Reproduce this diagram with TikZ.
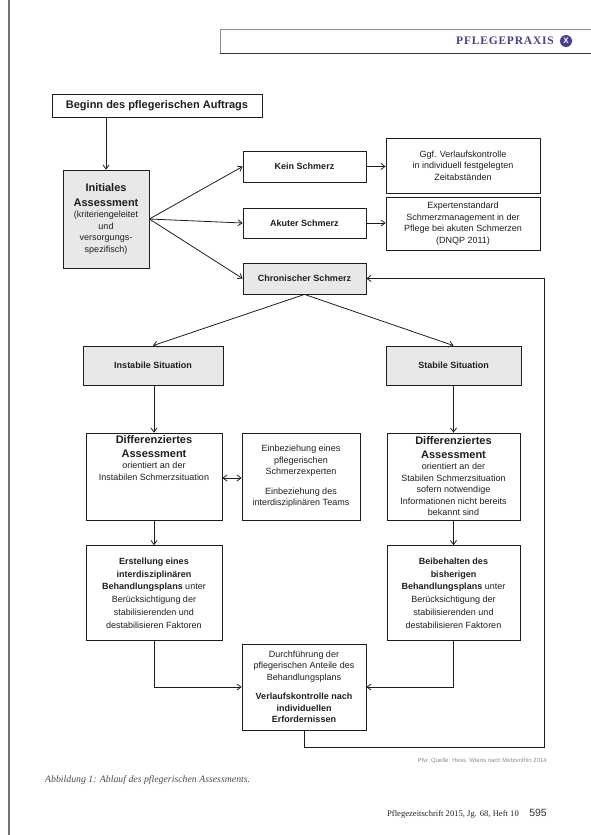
\documentclass[tikz,border=0pt]{standalone}
\usepackage{fontspec}
\setmainfont{Liberation Sans}
\newfontfamily\seriffont{Liberation Serif}
\usetikzlibrary{arrows.meta}
\definecolor{inkc}{HTML}{1E1E1E}
\definecolor{greyfill}{HTML}{E8E8E8}
\definecolor{bannerc}{HTML}{4B3F8C}
\tikzset{
  box/.style={draw=inkc, line width=0.8pt, align=center, inner sep=2pt, text=inkc,
              font=\fontsize{9}{11.5}\selectfont},
  gbox/.style={box, fill=greyfill},
  txt/.style={align=center, inner sep=0pt, text=inkc, font=\fontsize{9}{11.5}\selectfont},
  arr/.style={draw=inkc, line width=0.8pt, -{Straight Barb[length=4pt,width=6pt]}},
  darr/.style={draw=inkc, line width=0.8pt, {Straight Barb[length=4pt,width=6pt]}-{Straight Barb[length=4pt,width=6pt]}},
}
\newcommand{\bigb}{\fontsize{11}{14}\selectfont\bfseries}
\begin{document}
\begin{tikzpicture}[x=1pt,y=-1pt]
\useasboundingbox[fill=white] (0,0) rectangle (591,835);
% page edge line
\draw[line width=2.5pt, black!55] (9,0) -- (9,835);
% banner
\draw[line width=0.5pt, black!45] (591,29) -- (220,29) -- (220,53);
\draw[line width=1pt, black!80] (220,53) -- (591,53);
\node[anchor=east, inner sep=0pt, text=bannerc, font=\seriffont\fontsize{11.5}{12}\selectfont\bfseries] (bannertxt) at (554,41) {P\kern0.8pt F\kern0.8pt L\kern0.8pt E\kern0.8pt G\kern0.8pt E\kern0.8pt P\kern0.8pt R\kern0.8pt A\kern0.8pt X\kern0.8pt I\kern0.8pt S};
\node[circle, fill=bannerc, minimum size=12pt, inner sep=0pt, text=white, font=\fontsize{8}{8}\selectfont\bfseries] (bannericon) at (566,41) {X};

% boxes
\node[box, minimum width=210pt, minimum height=23pt, font=\fontsize{11}{13}\selectfont\bfseries] (beginn) at (157,105.5) {Beginn des pflegerischen Auftrags};
\node[gbox, minimum width=86pt, minimum height=98pt] (init) at (106,219)
  {{\bigb Initiales}\\[3pt]{\bigb Assessment}\\(kriteriengeleitet\\und\\versorgungs-\\spezifisch)};
\node[box, minimum width=123pt, minimum height=31pt, font=\fontsize{9}{11}\selectfont\bfseries] (kein) at (304.5,166.5) {Kein Schmerz};
\node[box, minimum width=123pt, minimum height=30pt, font=\fontsize{9}{11}\selectfont\bfseries] (akut) at (304.5,223) {Akuter Schmerz};
\node[gbox, minimum width=123pt, minimum height=31pt, font=\fontsize{9}{11}\selectfont\bfseries] (chron) at (304.5,278.5) {Chronischer Schmerz};
\node[box, minimum width=154pt, minimum height=55pt] (ggf) at (463,165.5)
  {Ggf. Verlaufskontrolle\\in individuell festgelegten\\Zeitabständen};
\node[box, minimum width=154pt, minimum height=53pt] (exp) at (463,223.5)
  {Expertenstandard\\Schmerzmanagement in der\\Pflege bei akuten Schmerzen\\(DNQP 2011)};
\node[gbox, minimum width=140pt, minimum height=39pt, font=\fontsize{9}{11}\selectfont\bfseries] (inst) at (153,365.5) {Instabile Situation};
\node[gbox, minimum width=135pt, minimum height=39pt, font=\fontsize{9}{11}\selectfont\bfseries] (stab) at (453.5,365.5) {Stabile Situation};

\node[box, minimum width=136pt, minimum height=87pt] (diffl) at (154,476.5) {};
\node[txt, anchor=north] (diffltxt) at ([yshift=-3pt]diffl.north)
  {{\bigb Differenziertes}\\[2pt]{\bigb Assessment}\\orientiert an der\\Instabilen Schmerzsituation};
\node[box, minimum width=118pt, minimum height=87pt] (mid) at (301,476.5)
  {Einbeziehung eines\\pflegerischen\\Schmerzexperten\\[8pt]Einbeziehung des\\interdisziplinären Teams};
\node[box, minimum width=133pt, minimum height=87pt] (diffr) at (453.5,476.5)
  {{\bigb Differenziertes}\\[2pt]{\bigb Assessment}\\orientiert an der\\Stabilen Schmerzsituation\\sofern notwendige\\Informationen nicht bereits\\bekannt sind};

\node[box, minimum width=136pt, minimum height=95pt, font=\fontsize{9}{12.8}\selectfont] (erst) at (154,593)
  {\textbf{Erstellung eines}\\\textbf{interdisziplinären}\\\textbf{Behandlungsplans} unter\\Berücksichtigung der\\stabilisierenden und\\destabilisieren Faktoren};
\node[box, minimum width=133pt, minimum height=95pt, font=\fontsize{9}{12.8}\selectfont] (beib) at (453.5,593)
  {\textbf{Beibehalten des}\\\textbf{bisherigen}\\\textbf{Behandlungsplans} unter\\Berücksichtigung der\\stabilisierenden und\\destabilisieren Faktoren};
\node[box, minimum width=124pt, minimum height=86pt] (durch) at (304,687)
  {Durchführung der\\pflegerischen Anteile des\\Behandlungsplans\\[8pt]\textbf{Verlaufskontrolle nach}\\\textbf{individuellen}\\\textbf{Erfordernissen}};

% connectors
\draw[arr] (init.north |- beginn.south) -- (init.north);
\draw[arr] (init.east) -- (kein.west);
\draw[arr] (init.east) -- (akut.west);
\draw[arr] (init.east) -- (chron.west);
\draw[arr] (kein.east) -- (kein.east -| ggf.west);
\draw[arr] (akut.east) -- (akut.east -| exp.west);
\draw[arr] (chron.south) -- (inst.north);
\draw[arr] (chron.south) -- (stab.north);
\draw[arr] (inst.south -| diffl.north) -- (diffl.north);
\draw[arr] (stab.south -| diffr.north) -- (diffr.north);
\draw[darr] ([yshift=-1.5pt]diffl.east) -- ([yshift=-1.5pt]mid.west);
\draw[arr] (diffl.south) -- (erst.north);
\draw[arr] (diffr.south) -- (beib.north);
\draw[arr] (erst.south) |- (durch.west);
\draw[arr] (beib.south) |- (durch.east);
\coordinate (loopbr) at (544,747);
\draw[arr] (durch.south) |- (loopbr) |- (chron.east);

% texts below
\node[anchor=east, inner sep=0pt, text=black!45, font=\fontsize{6}{7}\selectfont] (credit) at (547,761) {Pfw. Quelle: Hess, Wiens nach Metzenthin 2014};
\node[anchor=west, inner sep=0pt, text=black!70, font=\seriffont\fontsize{9.8}{11}\selectfont\itshape] (caption) at (45,780) {Abbildung 1: Ablauf des pflegerischen Assessments.};
\node[anchor=east, inner sep=0pt, text=black!85, font=\seriffont\fontsize{8.6}{10}\selectfont] (footer) at (519,814) {Pflegezeitschrift 2015, Jg. 68, Heft 10};
\node[anchor=east, inner sep=0pt, text=black!80, font=\fontsize{10.5}{12}\selectfont] (pagenum) at (547,813) {595};
\end{tikzpicture}
\end{document}
